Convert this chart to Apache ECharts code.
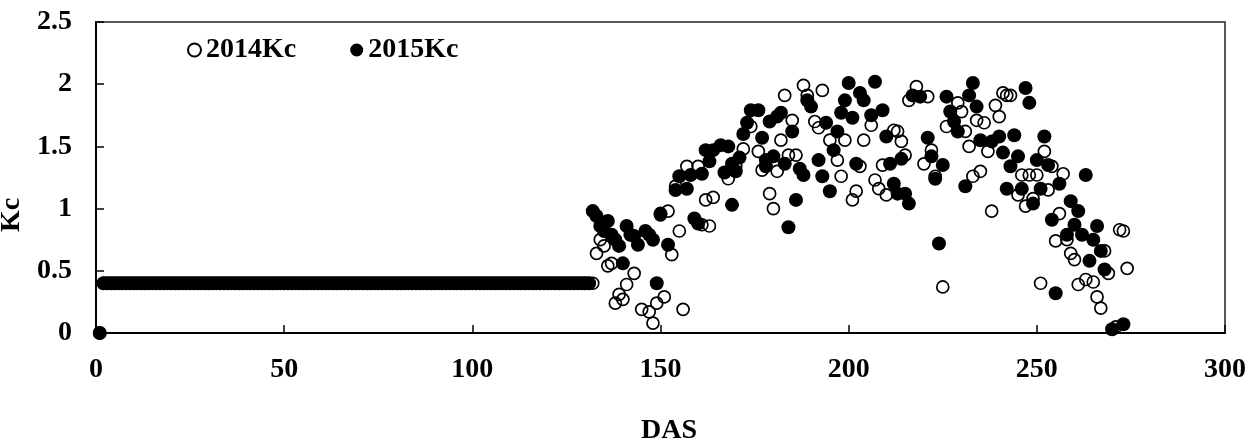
<!DOCTYPE html>
<html>
<head>
<meta charset="utf-8">
<script src="https://cdn.jsdelivr.net/npm/echarts@6/dist/echarts.min.js"></script>
<style>
  html, body { margin: 0; padding: 0; background: #fff; }
  #chart { width: 1259px; height: 441px; }
</style>
</head>
<body>
<div id="chart"></div>
<script>
// ---- data ----
// Early season: day 1 = 0, then constant Kc = 0.4 (both years)
const earlyDas = [1,2,3,4,5,6,7,8,9,10,11,12,13,14,15,16,17,18,19,20,
  21,22,23,24,25,26,27,28,29,30,31,32,33,34,35,36,37,38,39,40,
  41,42,43,44,45,46,47,48,49,50,51,52,53,54,55,56,57,58,59,60,
  61,62,63,64,65,66,67,68,69,70,71,72,73,74,75,76,77,78,79,80,
  81,82,83,84,85,86,87,88,89,90,91,92,93,94,95,96,97,98,99,100,
  101,102,103,104,105,106,107,108,109,110,111,112,113,114,115,116,117,118,119,120,
  121,122,123,124,125,126,127,128,129,130,131];
const earlyKc = [0,
  0.4,0.4,0.4,0.4,0.4,0.4,0.4,0.4,0.4,0.4,
  0.4,0.4,0.4,0.4,0.4,0.4,0.4,0.4,0.4,0.4,
  0.4,0.4,0.4,0.4,0.4,0.4,0.4,0.4,0.4,0.4,
  0.4,0.4,0.4,0.4,0.4,0.4,0.4,0.4,0.4,0.4,
  0.4,0.4,0.4,0.4,0.4,0.4,0.4,0.4,0.4,0.4,
  0.4,0.4,0.4,0.4,0.4,0.4,0.4,0.4,0.4,0.4,
  0.4,0.4,0.4,0.4,0.4,0.4,0.4,0.4,0.4,0.4,
  0.4,0.4,0.4,0.4,0.4,0.4,0.4,0.4,0.4,0.4,
  0.4,0.4,0.4,0.4,0.4,0.4,0.4,0.4,0.4,0.4,
  0.4,0.4,0.4,0.4,0.4,0.4,0.4,0.4,0.4,0.4,
  0.4,0.4,0.4,0.4,0.4,0.4,0.4,0.4,0.4,0.4,
  0.4,0.4,0.4,0.4,0.4,0.4,0.4,0.4,0.4,0.4,
  0.4,0.4,0.4,0.4,0.4,0.4,0.4,0.4,0.4,0.4];

// 2014 (open circles), later season
const das2014 = [132,133,134,135,136,137,138,139,140,141,143,145,147,148,149,150,151,152,153,154,
  155,156,157,160,161,162,163,164,168,170,172,174,176,177,179,180,181,182,183,184,
  185,186,188,189,191,192,193,195,197,198,199,201,202,203,204,206,207,208,209,210,
  212,213,214,215,216,218,220,221,222,223,225,226,229,230,231,232,233,234,235,236,
  237,238,239,240,241,242,243,245,246,247,248,249,250,251,252,253,254,255,256,257,
  258,259,260,261,263,265,266,267,268,269,271,272,273,274];
const kc2014 = [0.4,0.64,0.75,0.70,0.54,0.56,0.24,0.31,0.27,0.39,0.48,0.19,0.17,0.08,0.24,0.95,0.29,0.98,0.63,1.18,
  0.82,0.19,1.34,1.34,0.87,1.07,0.86,1.09,1.24,1.34,1.48,1.66,1.46,1.31,1.12,1.00,1.30,1.55,1.91,1.43,
  1.71,1.43,1.99,1.91,1.70,1.65,1.95,1.55,1.39,1.26,1.55,1.07,1.14,1.34,1.55,1.67,1.23,1.16,1.35,1.11,
  1.63,1.62,1.54,1.43,1.87,1.98,1.36,1.90,1.47,1.26,0.37,1.66,1.85,1.78,1.62,1.50,1.26,1.71,1.30,1.69,
  1.46,0.98,1.83,1.74,1.93,1.91,1.91,1.11,1.27,1.02,1.27,1.08,1.27,0.40,1.46,1.15,1.34,0.74,0.96,1.28,
  0.75,0.64,0.59,0.39,0.43,0.41,0.29,0.20,0.66,0.48,0.05,0.83,0.82,0.52];

// 2015 (filled circles), later season
const das2015 = [132,133,134,135,136,137,138,139,140,141,142,143,144,146,147,148,149,150,152,154,
  155,157,158,159,160,161,162,163,164,166,167,168,169,169,170,171,172,173,174,176,
  177,178,178,179,180,181,182,183,184,185,186,187,188,189,190,192,193,194,195,196,
  197,198,199,200,201,202,203,204,206,207,209,210,211,212,213,214,215,216,217,219,
  221,222,223,224,225,226,227,228,229,231,232,233,234,235,238,240,241,242,243,244,
  245,246,247,248,249,250,251,252,253,254,255,256,258,259,260,261,262,263,264,265,
  266,267,268,270,273];
const kc2015 = [0.98,0.94,0.86,0.82,0.90,0.79,0.75,0.70,0.56,0.86,0.79,0.78,0.71,0.82,0.79,0.75,0.40,0.96,0.71,1.15,
  1.26,1.16,1.27,0.92,0.88,1.28,1.47,1.38,1.47,1.51,1.29,1.50,1.36,1.03,1.30,1.41,1.60,1.69,1.79,1.79,
  1.57,1.39,1.34,1.70,1.42,1.74,1.77,1.36,0.85,1.62,1.07,1.32,1.27,1.87,1.82,1.39,1.26,1.69,1.14,1.47,
  1.62,1.77,1.87,2.01,1.73,1.36,1.93,1.87,1.75,2.02,1.79,1.58,1.36,1.20,1.12,1.40,1.12,1.04,1.91,1.90,
  1.57,1.42,1.24,0.72,1.35,1.90,1.78,1.70,1.62,1.18,1.91,2.01,1.82,1.55,1.54,1.58,1.45,1.16,1.34,1.59,
  1.42,1.16,1.97,1.85,1.04,1.39,1.16,1.58,1.35,0.91,0.32,1.20,0.79,1.06,0.87,0.98,0.79,1.27,0.58,0.75,
  0.86,0.66,0.51,0.03,0.07];

const seriesNames = ['2014Kc', '2015Kc'];
const xTickLabels = ['0','50','100','150','200','250','300'];
const yTickLabels = ['0','0.5','1','1.5','2','2.5'];
const xAxisTitle = 'DAS';
const yAxisTitle = 'Kc';

// ---- build ----
function zip(xs, ys) { return xs.map((x, i) => [x, ys[i]]); }
const data2014 = zip(earlyDas, earlyKc).concat(zip(das2014, kc2014));
const data2015 = zip(earlyDas, earlyKc).concat(zip(das2015, kc2015));

const FONT = '"Liberation Serif", "Times New Roman", serif';
const labelStyle = { fontFamily: FONT, fontWeight: 'bold', fontSize: 28, color: '#000' };

const chart = echarts.init(document.getElementById('chart'), null, { renderer: 'canvas' });
chart.setOption({
  animation: false,
  backgroundColor: '#fff',
  grid: {
    left: 96, right: 34, top: 22, bottom: 108,
    containLabel: false, outerBoundsMode: 'none',
    show: true, borderColor: '#222', borderWidth: 1.5, backgroundColor: 'transparent'
  },
  legend: {
    left: 182, top: 31, padding: 5,
    itemWidth: 13, itemHeight: 13, itemGap: 54,
    textStyle: labelStyle,
    data: [{ name: seriesNames[0], icon: 'circle' }, { name: seriesNames[1], icon: 'circle' }]
  },
  xAxis: {
    type: 'value', min: 0, max: 300, interval: 50,
    name: xAxisTitle, nameLocation: 'middle', nameGap: 84,
    nameTextStyle: Object.assign({}, labelStyle, { padding: [0, 0, 0, 17] }),
    axisLine: { show: true, onZero: false, lineStyle: { color: '#000', width: 2 } },
    axisTick: { show: true, inside: true, length: 8, lineStyle: { color: '#000', width: 1.5 } },
    axisLabel: Object.assign({}, labelStyle, { margin: 23, formatter: (v) => xTickLabels[Math.round(v / 50)] }),
    splitLine: { show: false }
  },
  yAxis: {
    type: 'value', min: 0, max: 2.5, interval: 0.5,
    name: yAxisTitle, nameLocation: 'middle', nameGap: 56, nameRotate: 90,
    nameTextStyle: Object.assign({}, labelStyle, { padding: [0, 75, 0, 0] }),
    axisLine: { show: true, lineStyle: { color: '#000', width: 2 } },
    axisTick: { show: true, inside: true, length: 8, lineStyle: { color: '#000', width: 1.5 } },
    axisLabel: Object.assign({}, labelStyle, { margin: 24, formatter: (v) => yTickLabels[Math.round(v / 0.5)] }),
    splitLine: { show: false }
  },
  series: [
    {
      name: seriesNames[0], type: 'scatter', data: data2014,
      symbol: 'circle', symbolSize: 12,
      itemStyle: { color: 'rgba(255,255,255,0)', borderColor: '#000', borderWidth: 1.7, opacity: 1 },
      emphasis: { disabled: true }
    },
    {
      name: seriesNames[1], type: 'scatter', data: data2015,
      symbol: 'circle', symbolSize: 14,
      itemStyle: { color: '#000', opacity: 1 },
      emphasis: { disabled: true }
    }
  ]
});
</script>
</body>
</html>
